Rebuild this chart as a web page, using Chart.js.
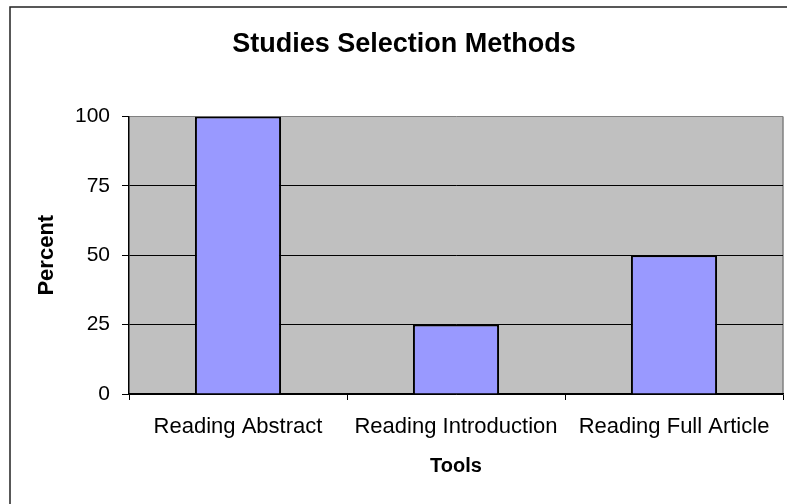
<!DOCTYPE html>
<html>
<head>
<meta charset="utf-8">
<script src="https://cdn.jsdelivr.net/npm/chart.js@4/dist/chart.umd.min.js"></script>
<style>
  body { margin: 0; background: #fff; }
  #wrap { width: 787px; height: 504px; }
</style>
</head>
<body>
<div id="wrap"><canvas id="chart" width="787" height="504"></canvas></div>
<script>
// chart data
const categories = ["Reading Abstract", "Reading Introduction", "Reading Full Article"];
const percents = [100, 25, 50];
const yTicks = [0, 25, 50, 75, 100];

const FONT = "'Liberation Sans', Arial, sans-serif";

// gray plot area + gray right edge, outer frame
const plotFrame = {
  id: "plotFrame",
  beforeDraw(chart) {
    const { ctx, chartArea: a } = chart;
    ctx.save();
    ctx.fillStyle = "#C0C0C0";
    ctx.fillRect(a.left, a.top, a.right - a.left, a.bottom - a.top);
    ctx.strokeStyle = "#808080";
    ctx.lineWidth = 1.5;
    ctx.beginPath();
    ctx.moveTo(a.right, a.top);
    ctx.lineTo(a.right, a.bottom);
    ctx.stroke();
    ctx.restore();
  },
  afterDraw(chart) {
    const { ctx } = chart;
    ctx.save();
    ctx.strokeStyle = "#222";
    ctx.lineWidth = 1.5;
    ctx.strokeRect(10, 7, 900, 600);
    ctx.restore();
  }
};

new Chart(document.getElementById("chart"), {
  type: "bar",
  data: {
    labels: categories,
    datasets: [{
      data: percents,
      backgroundColor: "#9999FF",
      borderColor: "#000",
      borderWidth: 2,
      categoryPercentage: 1,
      barPercentage: 0.395,
    }]
  },
  plugins: [plotFrame],
  options: {
    responsive: false,
    animation: false,
    devicePixelRatio: 1,
    layout: { padding: { left: 25, right: 4, top: 0, bottom: 0 } },
    plugins: {
      legend: { display: false },
      tooltip: { enabled: false },
      title: {
        display: true,
        text: "Studies Selection Methods",
        color: "#000",
        font: { family: FONT, size: 27, weight: "bold" },
        padding: { top: 28, bottom: 56 }
      }
    },
    scales: {
      x: {
        offset: true,
        afterFit(scale) { scale.height = 110; },
        grid: {
          offset: true,
          drawOnChartArea: false,
          color: "#000",
          tickLength: 6
        },
        border: { display: true, color: "#000", width: 1.5 },
        ticks: {
          color: "#000",
          padding: 14,
          maxRotation: 0,
          font: { family: FONT, size: 22 }
        },
        title: {
          display: true,
          text: "Tools",
          color: "#000",
          font: { family: FONT, size: 20, weight: "bold" },
          padding: { top: 0, bottom: 26 }
        }
      },
      y: {
        min: 0,
        max: 100,
        afterFit(scale) { scale.width = 104; },
        afterBuildTicks(scale) { scale.ticks = yTicks.map(v => ({ value: v })); },
        grid: {
          color: c => (c.tick && c.tick.value === 100 ? "#808080" : "#000"),
          tickColor: "#000",
          lineWidth: 1,
          tickLength: 7
        },
        border: { display: true, color: "#000", width: 1.5 },
        ticks: {
          color: "#000",
          padding: 12,
          font: { family: FONT, size: 21 }
        },
        title: {
          display: true,
          text: "Percent",
          color: "#000",
          font: { family: FONT, size: 22, weight: "bold" },
          padding: { top: 9, bottom: 0 }
        }
      }
    }
  }
});
</script>
</body>
</html>
